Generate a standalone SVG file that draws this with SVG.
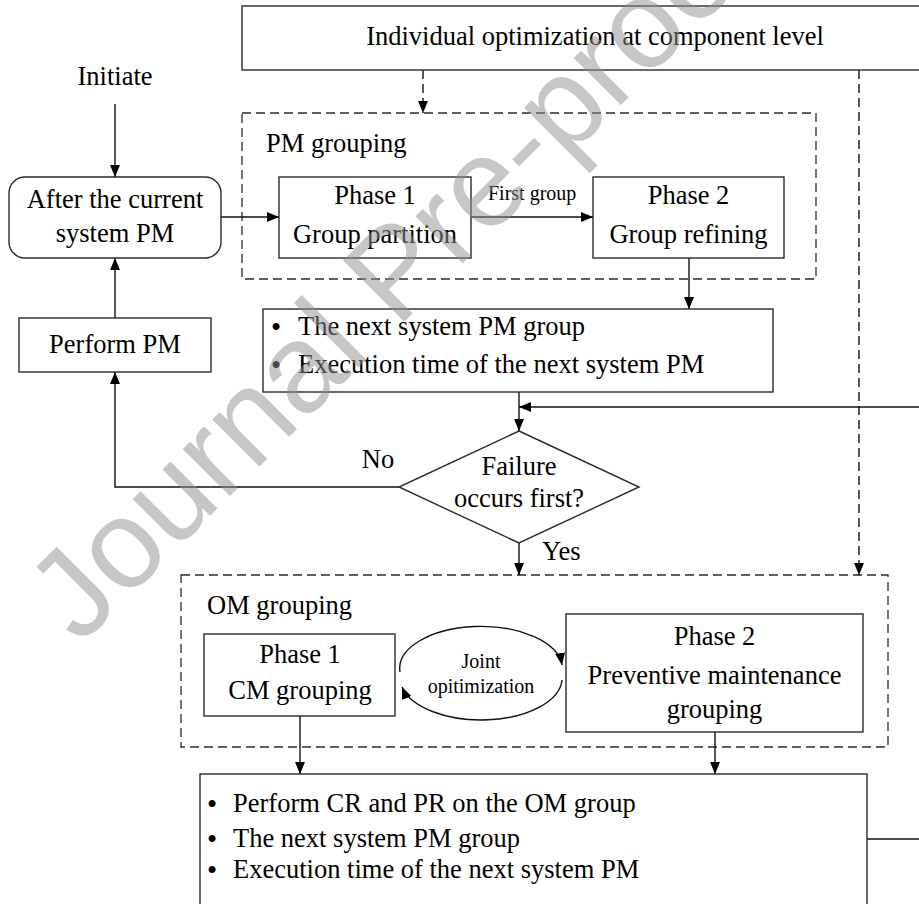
<svg xmlns="http://www.w3.org/2000/svg" width="919" height="904" viewBox="0 0 919 904">
<style>
.t{font-family:"Liberation Serif","Times New Roman",serif;font-size:26.5px;fill:#000}
.s{font-family:"Liberation Serif","Times New Roman",serif;font-size:20px;fill:#000}
.bu{font-size:29px}
.m{text-anchor:middle}
.box{fill:#fff;stroke:#2a2a2a;stroke-width:1.4}
.dbox{fill:none;stroke:#2a2a2a;stroke-width:1.3;stroke-dasharray:9,5}
.ln{fill:none;stroke:#111;stroke-width:1.4}
.dl{fill:none;stroke:#111;stroke-width:1.4;stroke-dasharray:9,5}
.wm{font-family:"Liberation Sans",Arial,sans-serif;font-size:126px;fill:#8f8f8f;opacity:0.5}
</style>
<defs>
<marker id="ah" viewBox="0 0 12 10" refX="12" refY="5" markerWidth="12" markerHeight="10" markerUnits="userSpaceOnUse" orient="auto">
<path d="M0,0 L12,5 L0,10 z" fill="#000"/>
</marker>
</defs>
<rect width="919" height="904" fill="#fff"/>

<g id="pm-grouping">
<rect class="dbox" x="242" y="113" width="574" height="166"/>
<text class="t" x="266" y="152">PM grouping</text>
</g>
<g id="om-grouping">
<rect class="dbox" x="181" y="575" width="707" height="172"/>
<text class="t" x="207" y="614">OM grouping</text>
</g>

<g id="connectors">
<path class="ln" d="M115,104 V177" marker-end="url(#ah)"/>
<path class="ln" d="M221,217 H279" marker-end="url(#ah)"/>
<path class="ln" d="M471,217 H593" marker-end="url(#ah)"/>
<path class="ln" d="M689,258 V309" marker-end="url(#ah)"/>
<path class="ln" d="M519,392 V431" marker-end="url(#ah)"/>
<path class="ln" d="M919,407 H519" marker-end="url(#ah)"/>
<path class="ln" d="M399,487 H115 V372" marker-end="url(#ah)"/>
<path class="ln" d="M115,318 V258" marker-end="url(#ah)"/>
<path class="ln" d="M519,543 V575" marker-end="url(#ah)"/>
<path class="dl" d="M423,70 V113" marker-end="url(#ah)"/>
<path class="dl" d="M859,70 V575" marker-end="url(#ah)"/>
<path class="ln" d="M300,716 V774" marker-end="url(#ah)"/>
<path class="ln" d="M715,732 V774" marker-end="url(#ah)"/>
<path class="ln" d="M867,839 H919"/>
<path class="ln" d="M400,672 A81,42 0 0 1 562,665" marker-end="url(#ah)"/>
<path class="ln" d="M562,680 A81,42 0 0 1 402,687" marker-end="url(#ah)"/>
<text class="s" x="488" y="200">First group</text>
<text class="t m" x="378" y="468">No</text>
<text class="t" x="542" y="560">Yes</text>
<text class="s m" x="481" y="668">Joint</text>
<text class="s m" x="481" y="693">opitimization</text>
</g>

<g id="individual">
<rect class="box" x="242" y="6" width="700" height="64"/>
<text class="t m" x="595" y="45">Individual optimization at component level</text>
</g>
<g id="initiate">
<text class="t m" x="115" y="85">Initiate</text>
</g>
<g id="after-pm">
<rect class="box" x="9" y="177" width="212" height="81" rx="16"/>
<text class="t m" x="115" y="208">After the current</text>
<text class="t m" x="115" y="242">system PM</text>
</g>
<g id="pm-phase1">
<rect class="box" x="279" y="177" width="192" height="81"/>
<text class="t m" x="375" y="204">Phase 1</text>
<text class="t m" x="375" y="243">Group partition</text>
</g>
<g id="pm-phase2">
<rect class="box" x="593" y="177" width="191" height="81"/>
<text class="t m" x="688.5" y="204">Phase 2</text>
<text class="t m" x="688.5" y="243">Group refining</text>
</g>
<g id="perform-pm">
<rect class="box" x="19" y="318" width="192" height="54"/>
<text class="t m" x="115" y="353">Perform PM</text>
</g>
<g id="next-pm">
<rect class="box" x="263" y="309" width="510" height="83"/>
<text class="t" y="335"><tspan class="bu" x="271" dy="2">•</tspan><tspan x="298" dy="-2">The next system PM group</tspan></text>
<text class="t" y="373"><tspan class="bu" x="271" dy="2">•</tspan><tspan x="298" dy="-2">Execution time of the next system PM</tspan></text>
</g>
<g id="failure">
<polygon class="box" points="519,431 639,487 519,543 399,487"/>
<text class="t m" x="519" y="475">Failure</text>
<text class="t m" x="519" y="507">occurs first?</text>
</g>
<g id="om-phase1">
<rect class="box" x="204" y="634" width="191" height="82"/>
<text class="t m" x="300" y="663">Phase 1</text>
<text class="t m" x="300" y="699">CM grouping</text>
</g>
<g id="om-phase2">
<rect class="box" x="566" y="614" width="297" height="118"/>
<text class="t m" x="714.5" y="645">Phase 2</text>
<text class="t m" x="714.5" y="684">Preventive maintenance</text>
<text class="t m" x="714.5" y="718">grouping</text>
</g>
<g id="final">
<rect class="box" x="200" y="774" width="667" height="150"/>
<text class="t" y="812"><tspan class="bu" x="207" dy="2">•</tspan><tspan x="233" dy="-2">Perform CR and PR on the OM group</tspan></text>
<text class="t" y="847"><tspan class="bu" x="207" dy="2">•</tspan><tspan x="233" dy="-2">The next system PM group</tspan></text>
<text class="t" y="878"><tspan class="bu" x="207" dy="2">•</tspan><tspan x="233" dy="-2">Execution time of the next system PM</tspan></text>
</g>

<text class="wm" transform="translate(80,646) rotate(-45)">Journal Pre-proof</text>
</svg>
